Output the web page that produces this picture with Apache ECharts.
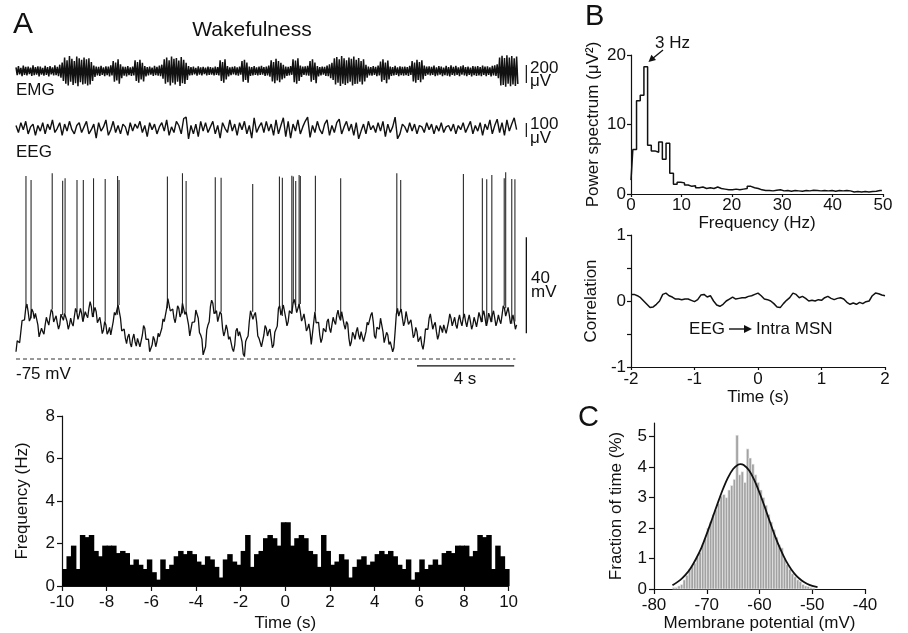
<!DOCTYPE html>
<html><head><meta charset="utf-8">
<script src="https://cdn.jsdelivr.net/npm/echarts@6/dist/echarts.min.js"></script>
<style>html,body{margin:0;padding:0;background:#fff}#c{width:908px;height:633px}</style>
</head><body><div id="c"></div>
<script>
const FONT = '"Liberation Sans", Arial, Helvetica, sans-serif';
const INK = '#111';

// ---------- Panel A traces (sampled every 0.1 s, 0 .. 20.6 s) ----------
const TRACE_DT = 0.1;
// EMG: max / min of each 0.1 s bin (µV)
const emgHi = [40,55,35,60,45,50,38,62,44,52, 48,36,58,42,55,40,62,45,70,95,
  150,120,165,135,110,160,140,125,150,130, 140,100,60,50,45,58,40,52,48,62,
  110,95,130,75,50,45,55,40,48,120, 100,125,90,55,42,50,38,56,45,60,
  70,130,150,120,160,135,145,115,155,125, 90,55,42,48,36,52,40,46,38,50,
  44,38,50,42,120,100,130,55,40,46, 52,40,48,110,125,95,50,42,55,40,
  48,56,42,50,60,120,100,135,110,90, 70,50,45,55,130,115,140,60,48,52,
  58,110,130,95,55,42,50,46,60,75, 90,140,155,130,165,140,120,150,135,160,
  125,145,110,130,70,50,42,55,46,60, 105,130,95,115,50,44,56,40,52,45,
  50,42,58,110,95,125,100,120,60,48, 52,45,60,40,55,48,38,56,44,62,
  46,58,40,52,64,44,50,38,55,48, 55,42,60,48,52,40,58,62,75,150,
  170,145,175,150,165,140,160];
const emgLo = [-45,-38,-58,-42,-50,-36,-55,-47,-40,-60, -40,-52,-44,-60,-38,-50,-46,-58,-75,-110,
  -140,-160,-120,-155,-135,-170,-125,-150,-140,-160, -150,-110,-65,-48,-55,-42,-58,-46,-60,-50,
  -120,-105,-140,-80,-52,-60,-45,-55,-50,-110, -130,-95,-115,-60,-48,-40,-55,-46,-52,-58,
  -85,-140,-125,-160,-130,-150,-120,-165,-135,-145, -100,-50,-45,-38,-52,-40,-48,-36,-50,-42,
  -40,-48,-42,-50,-110,-130,-95,-60,-45,-38, -46,-52,-40,-120,-100,-130,-55,-48,-42,-50,
  -44,-40,-54,-48,-62,-115,-135,-105,-125,-95, -80,-55,-48,-42,-125,-140,-110,-65,-44,-50,
  -52,-120,-100,-135,-60,-48,-40,-55,-58,-80, -100,-150,-130,-165,-140,-155,-135,-120,-160,-145,
  -140,-120,-150,-115,-75,-48,-52,-44,-58,-50, -120,-100,-135,-95,-55,-50,-42,-58,-46,-52,
  -46,-55,-44,-115,-130,-100,-125,-95,-55,-40, -50,-42,-56,-48,-40,-58,-46,-52,-60,-44,
  -52,-44,-58,-40,-50,-56,-42,-60,-46,-54, -48,-56,-44,-58,-42,-60,-50,-55,-80,-160,
  -155,-175,-140,-170,-150,-165,-145];
// EEG (µV)
const eegValues = [20,-30,40,-10,50,-40,10,30,-50,20, -20,40,-40,30,-10,60,-30,0,40,-50,
  30,-20,50,-10,-40,20,40,-30,10,50, -40,-10,30,-70,40,-20,10,60,-50,-10,
  50,-30,20,-40,30,10,-50,40,-20,30, 0,50,-30,20,-60,40,-10,30,-40,10,
  40,-20,60,-50,10,-30,50,20,-40,70, 80,-75,20,-40,30,-60,50,-20,40,-30,
  10,50,-40,20,-70,40,0,-30,60,-20, 30,-50,40,-10,50,-40,20,-70,75,-30,
  10,40,-30,50,-20,30,-50,60,-40,20, 75,-60,50,-70,30,-20,60,-40,10,50,
  80,-65,20,-30,50,-10,-40,30,60,-50, 20,-30,40,65,-40,10,50,-20,30,-50,
  40,-75,-20,30,-40,50,-10,20,-30,40, -20,50,-60,30,-30,10,80,-75,-40,30,
  10,-30,40,-20,30,-40,20,10,-30,40, -10,30,-40,20,-20,40,-30,10,20,-20,
  30,-40,20,-10,40,-30,10,50,-40,20, -20,40,-50,30,-10,60,-40,20,65,-30,
  40,-50,60,-20,30,75,-10];
// Intracellular membrane potential (mV): samples at k*0.1 s and the samples in between (k*0.1+0.05 s)
const vmValues = [-72,-67.8,-63.6,-59.4,-53.9,-55.3,-58,-55.3,-56,-60.8,
  -65.7,-63.6,-60.8,-59.4,-57.4,-55.3,-58.8,-60.1,-60.8,-56.7,
  -56,-59.4,-60.8,-60.1,-57.4,-55.3,-56.7,-56,-58.8,-56.7,
  -53.9,-53.2,-56.7,-55.3,-59.4,-60.8,-62.9,-60.8,-63.6,-65,
  -59.4,-56.7,-52.5,-58,-63.6,-66.4,-65.7,-68.5,-66.4,-67.8,
  -66.4,-69.9,-65,-62.2,-66.4,-72,-69.2,-67,-67.8,-65.7,
  -62.2,-59.4,-53.9,-49.7,-55.3,-58,-56.7,-53.9,-56,-52.5,
  -55.3,-60.8,-65,-59.4,-54.6,-58,-65,-73.3,-69.9,-60.8,
  -53.2,-51.8,-55.3,-59.4,-55.3,-62.2,-63.6,-62.9,-65.7,-70.6,
  -69.2,-62.2,-63.6,-67.8,-74,-66.4,-59.4,-55.3,-56.7,-59.4,
  -66.4,-69.9,-65,-62.2,-63.6,-66.4,-69.2,-63.6,-53.9,-56.7,
  -52.5,-58,-59.4,-55.3,-51.8,-52.5,-53.9,-55.3,-58,-59.4,
  -62.2,-63.6,-69.2,-55.3,-59.4,-65,-66.4,-62.9,-59.4,-62.2,
  -60.8,-59.4,-56.7,-57.4,-55.3,-60.8,-59.4,-66.4,-67.8,-65,
  -63.6,-65,-63.6,-67.8,-63.6,-60.8,-56.7,-59.4,-66.4,-62.2,
  -58,-63.6,-67.8,-65,-67.8,-72,-63.6,-53.9,-55.3,-58,
  -59.4,-56,-60.1,-62.2,-65,-63.6,-67,-69.2,-67.8,-62.2,
  -58,-59.4,-60.8,-63.6,-65,-62.2,-60.8,-64.3,-59.4,-58,
  -59.4,-60.8,-58.8,-59.4,-58,-59.4,-58.8,-59.4,-60.8,-59.4,
  -58.8,-57.4,-56.7,-58,-59.4,-57.4,-56.7,-58,-59.4,-58.8,
  -56.7,-53.9,-55.3,-56.7,-58.8,-59.4,-60.8];
const vmMid = [-67.4,-68.2,-59.0,-58.7,-52.1,-59.2,-54.2,-58.2,-56.4,-65.8,
  -62.2,-64.7,-57.6,-60.9,-54.4,-59.6,-57.0,-62.5,-56.3,-58.9,
  -55.2,-62.6,-58.0,-61.3,-53.9,-58.5,-53.9,-59.4,-55.3,-57.8,
  -51.1,-57.5,-53.5,-59.9,-57.6,-64.4,-59.4,-64.7,-61.8,-64.7,
  -55.6,-56.6,-52.8,-63.3,-62.5,-68.6,-64.6,-70.0,-64.6,-69.6,
  -65.7,-70.0,-61.1,-66.8,-66.7,-72.6,-65.6,-69.9,-64.3,-66.5,
  -58.3,-59.2,-49.8,-55.0,-54.2,-59.9,-52.8,-57.5,-51.8,-56.4,
  -55.6,-65.4,-59.7,-59.5,-53.8,-64.0,-66.7,-73.1,-62.9,-59.5,
  -50.5,-56.1,-54.9,-59.9,-56.3,-65.4,-60.8,-66.8,-65.7,-71.9,
  -63.2,-65.4,-63.2,-72.9,-67.7,-65.4,-54.9,-58.5,-55.6,-65.4,
  -65.7,-70.0,-61.1,-65.4,-62.5,-70.3,-63.9,-61.3,-52.8,-57.1,
  -52.8,-61.2,-54.9,-56.1,-50.2,-55.7,-52.1,-59.2,-56.2,-63.3,
  -60.4,-68.9,-59.8,-59.9,-59.7,-68.2,-62.2,-63.7,-58.3,-64.0,
  -57.6,-60.6,-54.6,-58.9,-55.6,-62.6,-60.4,-69.6,-63.9,-66.8,
  -61.8,-66.8,-63.2,-68.2,-59.7,-61.3,-55.6,-65.4,-61.8,-62.6,
  -58.3,-68.2,-63.9,-68.9,-67.4,-70.3,-56.3,-57.1,-54.2,-61.2,
  -55.2,-60.6,-58.7,-66.1,-61.8,-67.8,-65.6,-71.0,-62.5,-62.6,
  -56.2,-62.6,-59.7,-66.8,-61.1,-64.0,-60.1,-64.4,-56.2,-61.2,
  -57.6,-62.3,-56.6,-61.2,-56.2,-61.6,-56.6,-62.6,-57.6,-61.6,
  -55.6,-59.6,-54.9,-61.2,-55.9,-59.6,-54.9,-61.2,-56.6,-60.3,
  -52.8,-57.1,-53.5,-60.3,-56.6,-62.6];
const spikeTimes = [0.41,0.62,1.49,1.92,2.02,2.51,2.77,3.19,3.67,4.18,4.24,6.23,6.85,7.00,8.20,8.44,9.74,
  10.84,10.96,11.35,11.41,11.51,11.65,11.70,12.32,13.36,15.67,15.83,18.41,19.19,19.37,19.58,20.09,20.15,20.40,20.53];
const spikePeaks = [1.2,-0.4,2.4,-0.7,0.3,-0.4,-0.4,0.3,0,1.2,-0.4,1.0,2.4,-0.8,0.7,0.5,-2.1,
  1.0,0.5,1.4,1.0,-0.8,1.7,1.2,1.4,0.3,2.4,-0.4,2.1,0.3,-0.1,1.7,0.3,2.8,0,-0.1];
const vmRest = -75;             // dashed reference level
const scaleTime = [16.5, 20.5]; // 4 s bar
const scaleVm = [-64.3, -24.3]; // 40 mV bar
const scaleEmg = [-133, 67];    // 200 µV
const scaleEeg = [-62, 38];     // 100 µV

// ---------- Panel A histogram (0.2 s bins, -10 .. 10 s) ----------
const acgStart = -10, acgBin = 0.2;
const acgValues = [0.8,1.4,1.9,0.8,2.4,2.3,2.4,1.65,1.4,1.9, 1.9,1.9,1.55,1.65,1.55,1.0,1.25,1.0,0.8,1.25,
  0.65,0.3,1.25,0.8,1.0,1.4,1.65,1.5,1.65,1.5, 1.15,1.0,1.4,1.25,0.9,0.4,1.25,1.5,1.15,1.0,
  1.65,2.4,0.9,1.5,1.65,2.25,2.4,2.25,1.9,3.0, 3.0,1.9,2.25,2.4,2.25,1.65,1.5,0.9,2.4,1.65,
  1.0,1.15,1.5,1.25,0.4,0.9,1.25,1.4,1.0,1.15, 1.5,1.65,1.5,1.65,1.4,1.0,0.8,1.25,0.3,0.65,
  1.25,0.8,1.0,1.25,1.0,1.55,1.65,1.55,1.9,1.9, 1.9,1.4,1.65,2.4,2.3,2.4,0.8,1.9,1.4,0.8];

// ---------- Panel B power spectrum (0.732 Hz bins) ----------
const specBin = 0.732;
const specValues = [2.0,6.4,13.4,14.2,18.3,7.0,6.2,6.0,7.5,5.0, 7.3,3.0,1.4,1.7,1.6,1.3,1.1,1.2,0.9,1.0,
  0.8,0.9,0.8,1.0,0.8,0.7,0.6,0.6,0.7,0.6, 0.7,0.8,1.1,0.9,0.8,0.6,0.5,0.5,0.45,0.55,
  0.6,0.45,0.5,0.4,0.5,0.45,0.4,0.5,0.45,0.55, 0.5,0.45,0.5,0.45,0.5,0.4,0.5,0.45,0.5,0.45,
  0.3,0.35,0.3,0.35,0.3,0.35,0.4,0.5,0.5];

// ---------- Panel B correlation (-2 .. 2 s, 0.05 s step) ----------
const corrStart = -2, corrStep = 0.05;
const corrValues = [0.10,0.10,0.08,0.05,0.00,-0.05,-0.10,-0.09,-0.05,0.00,
  0.10,0.12,0.08,0.06,0.03,0.03,0.02,0.03,0.03,0.01,
  -0.01,0.02,0.09,0.10,0.06,0.08,0.00,-0.06,-0.08,-0.05,
  0.00,0.03,0.06,0.03,0.04,0.05,0.05,0.07,0.08,0.10,
  0.12,0.08,0.03,0.02,0.00,-0.04,-0.09,-0.10,-0.04,0.01,
  0.05,0.12,0.10,0.05,0.07,0.04,0.00,0.01,0.00,0.02,
  0.01,0.05,0.07,0.04,0.02,0.04,0.05,0.03,-0.02,-0.05,
  -0.03,-0.05,-0.02,-0.04,-0.01,0.00,0.08,0.12,0.11,0.09,0.08];

// ---------- Panel C membrane potential distribution ----------
const vhStart = -76.5, vhBin = 0.5;
const vhValues = [0.05,0.05,0.1,0.15,0.3,0.45,0.65,0.75,0.85,1.05,
  1.2,1.45,1.65,2.0,2.2,2.45,2.6,2.8,3.05,3.1,
  3.0,3.25,3.4,3.6,5.05,3.75,3.85,3.5,4.6,4.3,
  4.1,3.75,3.5,3.25,3.0,2.75,2.45,2.2,1.95,1.7,
  1.45,1.35,1.0,0.8,0.65,0.5,0.4,0.3,0.25,0.15,
  0.1,0.08,0.05,0.03];
const fitX = [-76.5,-75,-74,-73,-72,-71,-70,-69,-68,-67,-66,-65,-64,-63.6,-63,-62,-61,-60,-59,-58,-57,-56,-55,-54,-53,-52,-51,-50,-49];
const fitY = [0.12,0.30,0.47,0.70,1.00,1.36,1.81,2.29,2.78,3.25,3.65,3.94,4.09,4.10,4.07,3.90,3.58,3.16,2.69,2.19,1.71,1.29,0.93,0.65,0.43,0.28,0.17,0.10,0.06];

// ---------- build series data ----------
const emgData = [];
emgHi.forEach((h, i) => { emgData.push([i * TRACE_DT, h], [i * TRACE_DT + TRACE_DT / 2, emgLo[i]]); });
const eegData = eegValues.map((v, i) => [i * TRACE_DT, v]);
const vmData = [];
vmValues.forEach((v, i) => {
  vmData.push([i * TRACE_DT, v]);
  if (i < vmMid.length) vmData.push([i * TRACE_DT + TRACE_DT / 2, vmMid[i]]);
});
// each spike starts from the sample just before it
const spikeData = spikeTimes.map((t, k) => {
  let base = vmData[0][1];
  for (const p of vmData) { if (p[0] <= t) base = p[1]; else break; }
  return [t, base, spikePeaks[k]];
});
const traceEnd = (vmValues.length - 1) * TRACE_DT;
const acgData = acgValues.map((v, i) => [acgStart + i * acgBin, acgStart + (i + 1) * acgBin, v]);
const specData = specValues.map((v, i) => [i * specBin, v]);
const corrData = corrValues.map((v, i) => [corrStart + i * corrStep, v]);
const vhData = vhValues.map((v, i) => [vhStart + i * vhBin, vhStart + (i + 1) * vhBin, v]);
const fitData = fitX.map((x, i) => [x, fitY[i]]);

function rectItem(fill, stroke, overlap) {
  return function (params, api) {
    const a = api.coord([api.value(0), api.value(2)]);
    const b = api.coord([api.value(1), 0]);
    return { type: 'rect', shape: { x: a[0], y: a[1], width: b[0] - a[0] + overlap, height: b[1] - a[1] },
      style: { fill: fill, stroke: stroke, lineWidth: stroke ? 0.6 : 0 } };
  };
}
function spikeItem(params, api) {
  const a = api.coord([api.value(0), api.value(1)]);
  const b = api.coord([api.value(0), api.value(2)]);
  return { type: 'line', shape: { x1: a[0], y1: a[1], x2: b[0], y2: b[1] }, style: { stroke: '#2a2a2a', lineWidth: 1.1 } };
}

const lab = { color: INK, fontSize: 17, fontFamily: FONT };
function axis(extra) {
  const base = {
    type: 'value', splitLine: { show: false },
    axisLine: { show: true, onZero: false, lineStyle: { color: INK, width: 1.2 } },
    axisTick: { show: true, length: 5, lineStyle: { color: INK, width: 1.2 } },
    axisLabel: Object.assign({}, lab),
    nameTextStyle: Object.assign({}, lab), nameLocation: 'middle'
  };
  for (const k in extra) {
    if (typeof extra[k] === 'object' && base[k] && !Array.isArray(extra[k])) base[k] = Object.assign({}, base[k], extra[k]);
    else base[k] = extra[k];
  }
  return base;
}
const hid = (min, max) => ({ type: 'value', show: false, min: min, max: max, splitLine: { show: false } });
const W = 515.2; // 21.2 s

function line(xi, data, extra) {
  return Object.assign({ type: 'line', xAxisIndex: xi, yAxisIndex: xi, data: data, symbol: 'none', animation: false,
    lineStyle: { color: INK, width: 1 } }, extra || {});
}
function txt(x, y, s, size, align, extra) {
  return Object.assign({ type: 'text', x: x, y: y, silent: true,
    style: { text: s, fill: INK, font: size + 'px ' + FONT, textAlign: align || 'left', align: align || 'left',
      textVerticalAlign: 'middle', verticalAlign: 'middle' } }, extra || {});
}

const option = {
  backgroundColor: '#fff',
  animation: false,
  grid: [
    { left: 16, top: 50.3, width: W, height: 41.4 },
    { left: 16, top: 107.3, width: W, height: 42 },
    { left: 16, top: 167, width: W, height: 208.8 },
    { left: 62, top: 416, width: 446.6, height: 170 },
    { left: 631, top: 55, width: 252, height: 139 },
    { left: 631, top: 235, width: 254, height: 132 },
    { left: 654, top: 423, width: 211, height: 166 }
  ],
  xAxis: [
    Object.assign(hid(0, 21.2), { gridIndex: 0 }),
    Object.assign(hid(0, 21.2), { gridIndex: 1 }),
    Object.assign(hid(0, 21.2), { gridIndex: 2 }),
    axis({ gridIndex: 3, min: -10, max: 10, interval: 2, name: 'Time (s)', nameGap: 29 }),
    axis({ gridIndex: 4, min: 0, max: 50, interval: 10, name: 'Frequency (Hz)', nameGap: 21,
      axisTick: { length: 3 }, axisLabel: { margin: 3 } }),
    axis({ gridIndex: 5, min: -2, max: 2, interval: 1, name: 'Time (s)', nameGap: 21,
      axisTick: { length: 3 }, axisLabel: { margin: 4 } }),
    axis({ gridIndex: 6, min: -80, max: -40, interval: 10, name: 'Membrane potential (mV)', nameGap: 26 })
  ],
  yAxis: [
    Object.assign(hid(-230, 230), { gridIndex: 0 }),
    Object.assign(hid(-150, 150), { gridIndex: 1 }),
    Object.assign(hid(-82, 5), { gridIndex: 2 }),
    axis({ gridIndex: 3, min: 0, max: 8, interval: 2, name: 'Frequency (Hz)', nameGap: 31, nameRotate: 90,
      axisLabel: { margin: 7 } }),
    axis({ gridIndex: 4, min: 0, max: 20, interval: 10, name: 'Power spectrum (μV²)', nameGap: 29, nameRotate: 90,
      axisTick: { length: 4 }, axisLabel: { margin: 5 } }),
    axis({ gridIndex: 5, min: -1, max: 1, interval: 0.5, name: 'Correlation', nameGap: 31, nameRotate: 90,
      axisTick: { length: 4 }, axisLabel: { margin: 5, formatter: v => (Math.abs(v % 1) < 1e-9 ? String(v) : '') } }),
    axis({ gridIndex: 6, min: 0, max: 5.45, name: 'Fraction of time (%)', nameGap: 29, nameRotate: 90,
      axisTick: { customValues: [0, 1, 2, 3, 4, 5] }, axisLabel: { margin: 7, customValues: [0, 1, 2, 3, 4, 5] } })
  ],
  series: [
    line(0, emgData, { lineStyle: { color: INK, width: 1.5 } }),
    line(0, [[21.0, scaleEmg[0]], [21.0, scaleEmg[1]]], { lineStyle: { color: INK, width: 1.2 } }),
    line(1, eegData, { lineStyle: { color: INK, width: 1.4 } }),
    line(1, [[21.0, scaleEeg[0]], [21.0, scaleEeg[1]]], { lineStyle: { color: INK, width: 1.2 } }),
    line(2, [[0, vmRest], [traceEnd - 0.05, vmRest]], { lineStyle: { color: '#333', width: 1.2, type: [4, 3] } }),
    { type: 'custom', xAxisIndex: 2, yAxisIndex: 2, data: spikeData, renderItem: spikeItem,
      encode: { x: 0, y: [1, 2] }, animation: false },
    line(2, vmData, { lineStyle: { color: '#111', width: 1.3 } }),
    line(2, [[21.0, scaleVm[0]], [21.0, scaleVm[1]]], { lineStyle: { color: INK, width: 1.3 } }),
    line(2, [[scaleTime[0], -77.9], [scaleTime[1], -77.9]], { lineStyle: { color: INK, width: 1.3 } }),
    { type: 'custom', xAxisIndex: 3, yAxisIndex: 3, data: acgData, renderItem: rectItem('#000', null, 1),
      encode: { x: [0, 1], y: 2 }, animation: false },
    line(4, specData, { step: 'middle', lineStyle: { color: INK, width: 1.5 } }),
    line(5, corrData, { lineStyle: { color: INK, width: 1.5 } }),
    { type: 'custom', xAxisIndex: 6, yAxisIndex: 6, data: vhData, renderItem: rectItem('#a2a2a2', '#f2f2f2', 0),
      encode: { x: [0, 1], y: 2 }, animation: false },
    line(6, fitData, { smooth: 0.3, lineStyle: { color: INK, width: 1.8 } })
  ],
  graphic: [
    txt(13, 25, 'A', 30),
    txt(252, 30, 'Wakefulness', 21, 'center'),
    txt(16, 90, 'EMG', 17),
    txt(16, 152, 'EEG', 17),
    txt(530, 68, '200', 17),
    txt(530, 81, 'μV', 17),
    txt(530, 124, '100', 17),
    txt(530, 138, 'μV', 17),
    txt(531, 278, '40', 17),
    txt(531, 292, 'mV', 17),
    txt(16, 374, '-75 mV', 17),
    txt(465, 379, '4 s', 17, 'center'),
    txt(585, 17, 'B', 29),
    txt(655, 43, '3 Hz', 17),
    { type: 'line', silent: true, shape: { x1: 663, y1: 50, x2: 652, y2: 59 }, style: { stroke: INK, lineWidth: 1.3 } },
    { type: 'polygon', silent: true, shape: { points: [[648.5, 62], [656, 59.9], [651.4, 54.7]] }, style: { fill: INK } },
    txt(725, 329, 'EEG', 17, 'right'),
    { type: 'line', silent: true, shape: { x1: 729, y1: 329, x2: 745, y2: 329 }, style: { stroke: INK, lineWidth: 1.4 } },
    { type: 'polygon', silent: true, shape: { points: [[752, 329], [744, 325], [744, 333]] }, style: { fill: INK } },
    txt(756, 329, 'Intra MSN', 17, 'left'),
    txt(578, 418, 'C', 29)
  ]
};
const chart = echarts.init(document.getElementById('c'), null, { renderer: 'canvas' });
chart.setOption(option);
</script></body></html>
